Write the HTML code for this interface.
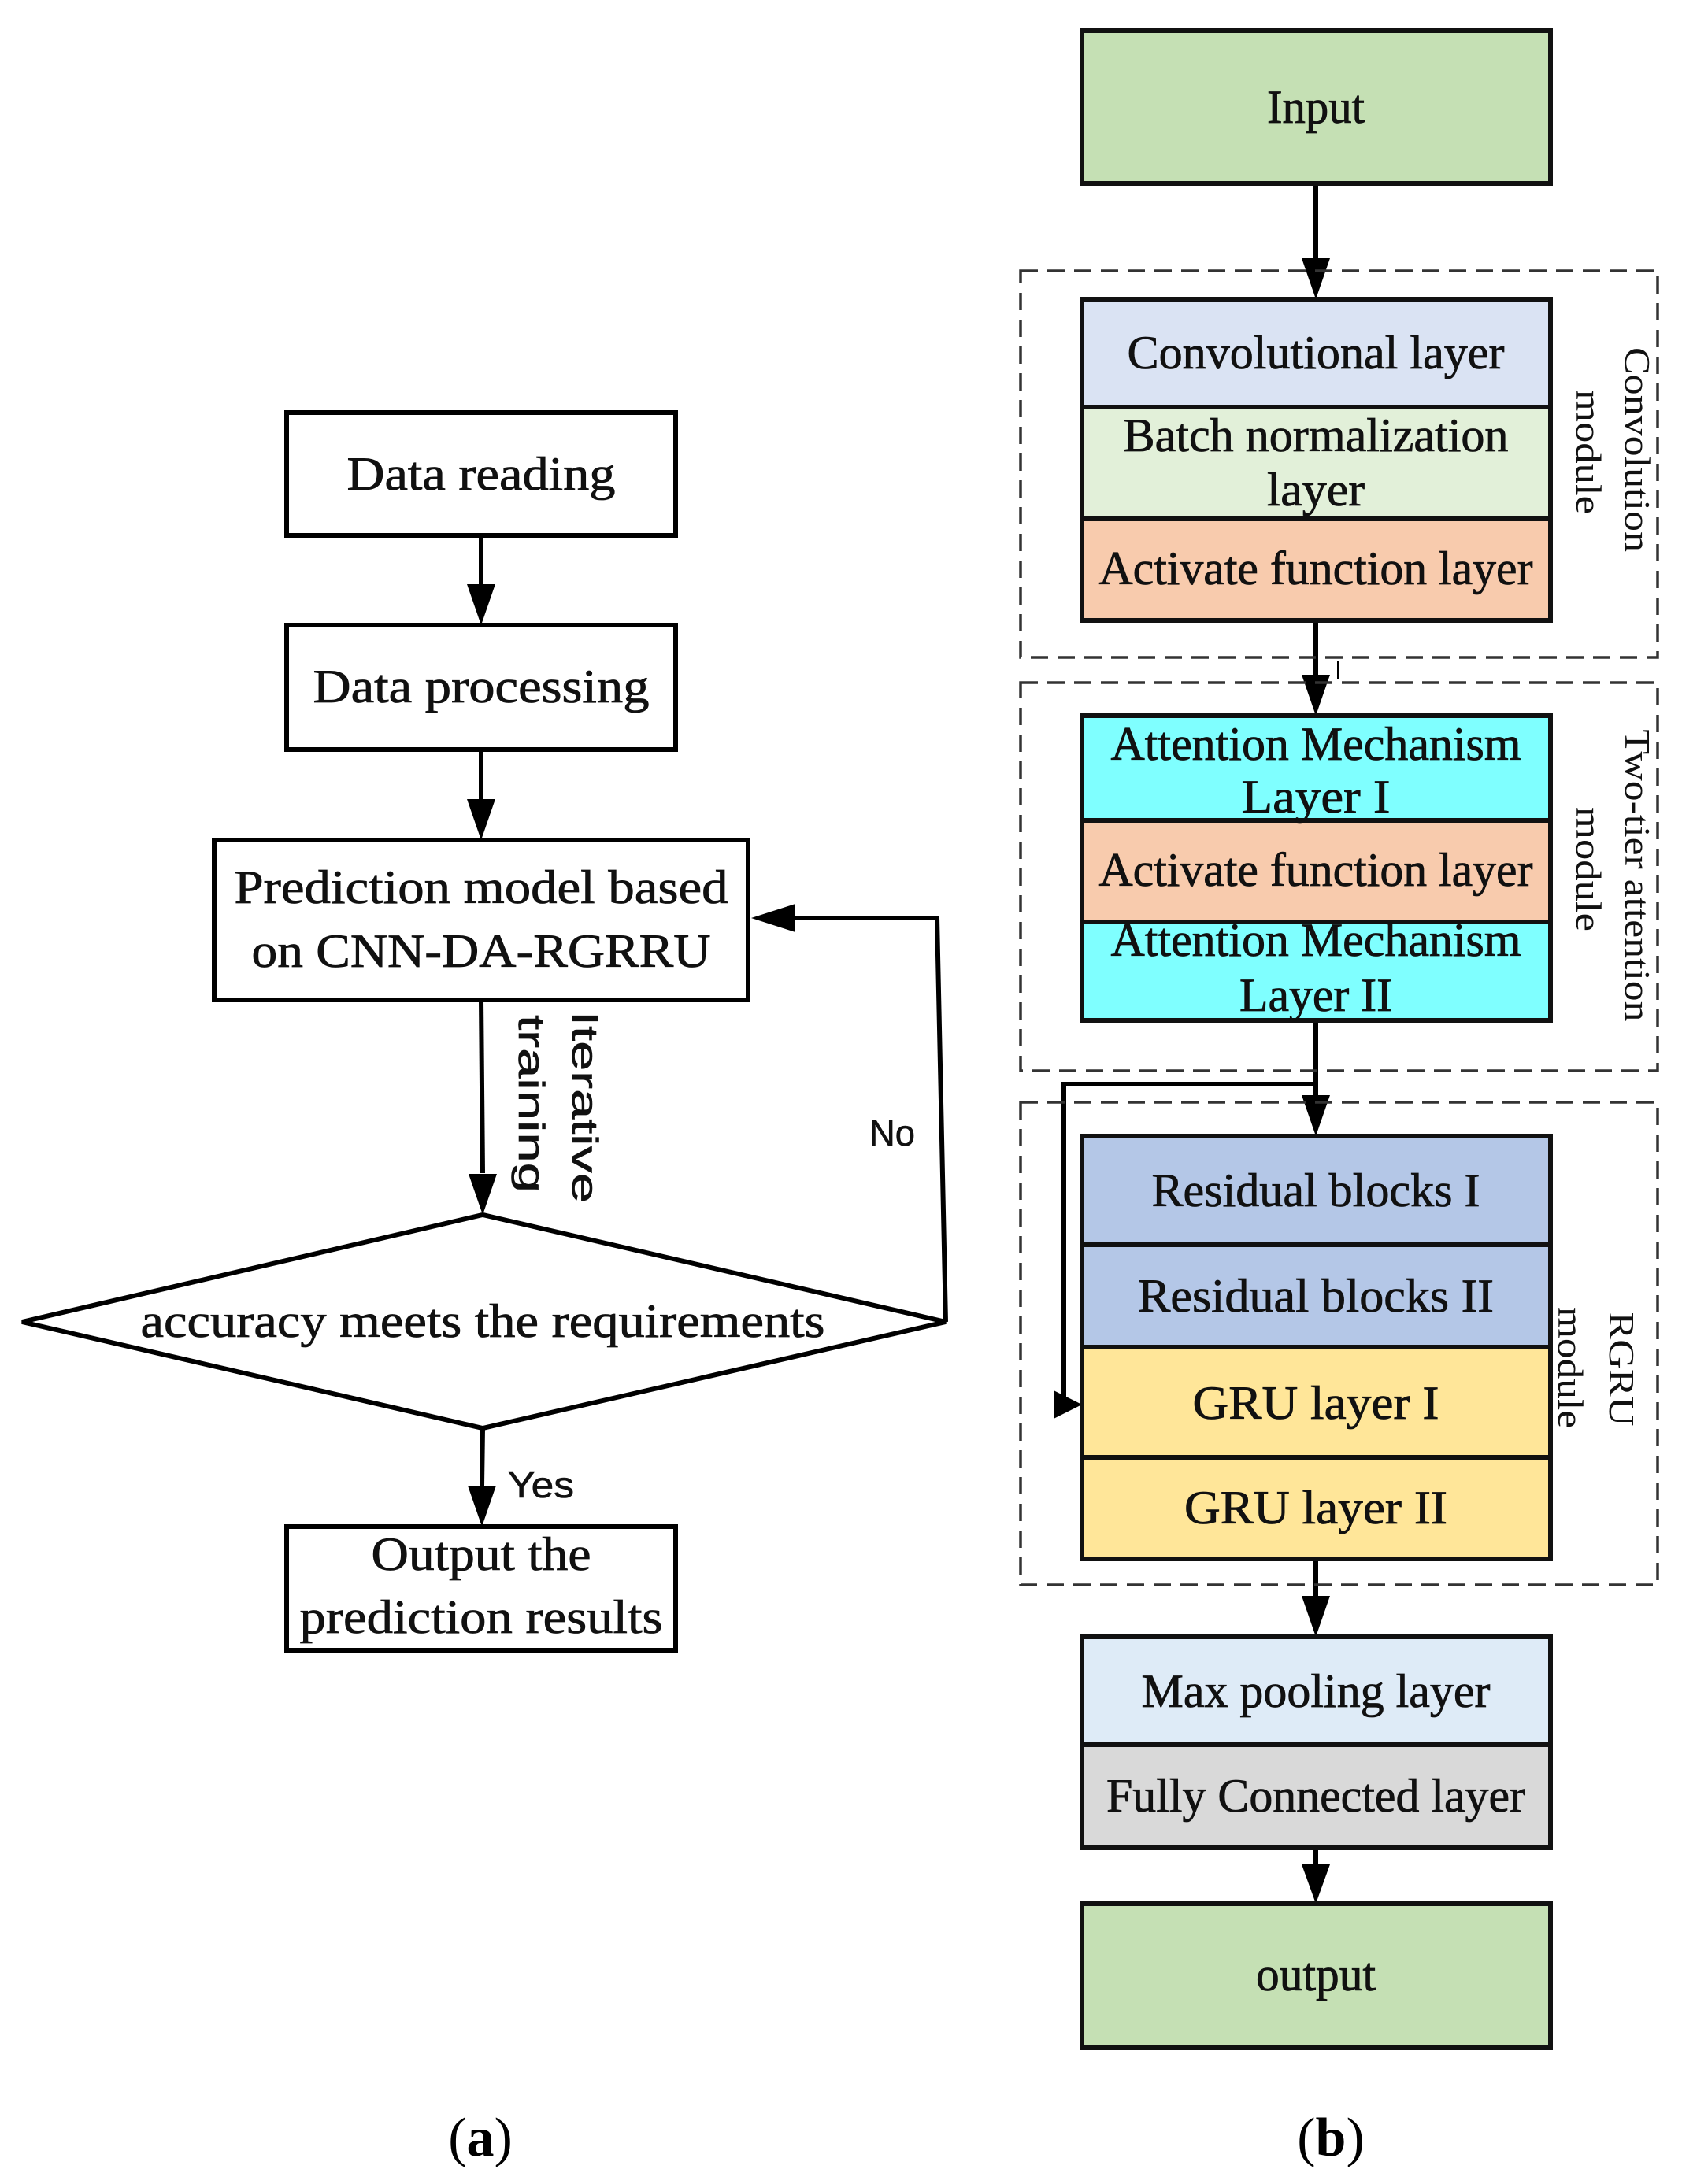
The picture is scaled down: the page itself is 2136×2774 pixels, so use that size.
<!DOCTYPE html>
<html><head><meta charset="utf-8"><style>
html,body{margin:0;padding:0;background:#fff}
svg{display:block}
.s{font-family:"Liberation Serif",serif;font-size:60px;fill:#111;stroke:#111;stroke-width:0.8}
.r{font-family:"Liberation Serif",serif;font-size:46px;fill:#111}
.a{font-family:"Liberation Sans",sans-serif;font-size:46px;fill:#111;stroke:#111;stroke-width:0.6}
</style></head><body>
<svg width="2136" height="2774" viewBox="0 0 2136 2774" xmlns="http://www.w3.org/2000/svg">
<g stroke="#000" stroke-width="6" fill="none">
<line x1="611" y1="680" x2="611" y2="742"/>
<line x1="611" y1="952" x2="611" y2="1015"/>
<line x1="611" y1="1270" x2="613" y2="1490"/>
<line x1="613" y1="1814" x2="612" y2="1887"/>
<polyline points="1201,1679 1190,1166 1010,1166"/>
<line x1="1671" y1="233" x2="1671" y2="330"/>
<line x1="1671" y1="788" x2="1671" y2="858"/>
<line x1="1671" y1="1296" x2="1671" y2="1392"/>
<polyline points="1671,1377 1351,1377 1351,1784 1340,1784"/>
<line x1="1671" y1="1980" x2="1671" y2="2028"/>
<line x1="1671" y1="2347" x2="1671" y2="2370"/>
<line x1="1699" y1="840" x2="1699" y2="862" stroke-width="2"/>
</g>
<g fill="#000">
<path d="M593,742 L629,742 L611,794 z"/>
<path d="M593,1015 L629,1015 L611,1067 z"/>
<path d="M595,1491 L631,1491 L613,1543 z"/>
<path d="M594,1887 L630,1887 L612,1939 z"/>
<path d="M1010,1148 L1010,1184 L954,1166 z"/>
<path d="M1653,328 L1689,328 L1671,380 z"/>
<path d="M1653,857 L1689,857 L1671,909 z"/>
<path d="M1653,1391 L1689,1391 L1671,1443 z"/>
<path d="M1338,1766 L1338,1802 L1374,1784 z"/>
<path d="M1653,2027 L1689,2027 L1671,2079 z"/>
<path d="M1653,2368 L1689,2368 L1671,2418 z"/>
</g>
<g stroke="#333" stroke-width="3.5" fill="none" stroke-dasharray="22,12">
<rect x="1296" y="344" width="809" height="491"/>
<rect x="1296" y="867" width="809" height="493"/>
<rect x="1296" y="1400" width="809" height="613"/>
</g>
<g stroke="#000" stroke-width="6" fill="#fff">
<rect x="364" y="524" width="494" height="156"/>
<rect x="364" y="794" width="494" height="158"/>
<rect x="272" y="1067" width="678" height="203"/>
<polygon points="28,1679 613,1543 1201,1679 613,1814"/>
<rect x="364" y="1939" width="494" height="157"/>
</g>
<g stroke="#111" stroke-width="6">
<rect x="1374" y="39" width="595" height="194" fill="#c5e0b4"/>
<rect x="1374" y="380" width="595" height="137" fill="#dae3f3"/>
<rect x="1374" y="517" width="595" height="142" fill="#e2f0d9"/>
<rect x="1374" y="659" width="595" height="129" fill="#f8cbad"/>
<rect x="1374" y="909" width="595" height="133" fill="#7fffff"/>
<rect x="1374" y="1042" width="595" height="129" fill="#f8cbad"/>
<rect x="1374" y="1171" width="595" height="125" fill="#7fffff"/>
<rect x="1374" y="1443" width="595" height="138" fill="#b4c7e7"/>
<rect x="1374" y="1581" width="595" height="130" fill="#b4c7e7"/>
<rect x="1374" y="1711" width="595" height="140" fill="#ffe699"/>
<rect x="1374" y="1851" width="595" height="129" fill="#ffe699"/>
<rect x="1374" y="2079" width="595" height="137" fill="#deebf7"/>
<rect x="1374" y="2216" width="595" height="131" fill="#d9d9d9"/>
<rect x="1374" y="2418" width="595" height="183" fill="#c5e0b4"/>
</g>
<g class="s" text-anchor="middle">
<text x="611" y="622" textLength="341" lengthAdjust="spacingAndGlyphs">Data reading</text>
<text x="611" y="892" textLength="427" lengthAdjust="spacingAndGlyphs">Data processing</text>
<text x="611" y="1147" textLength="627" lengthAdjust="spacingAndGlyphs">Prediction model based</text>
<text x="611" y="1228" textLength="583" lengthAdjust="spacingAndGlyphs">on CNN-DA-RGRRU</text>
<text x="613" y="1698" textLength="869" lengthAdjust="spacingAndGlyphs">accuracy meets the requirements</text>
<text x="611" y="1994" textLength="279" lengthAdjust="spacingAndGlyphs">Output the</text>
<text x="611" y="2074" textLength="461" lengthAdjust="spacingAndGlyphs">prediction results</text>
<text x="1671" y="156" textLength="124" lengthAdjust="spacingAndGlyphs">Input</text>
<text x="1671" y="468" textLength="479" lengthAdjust="spacingAndGlyphs">Convolutional layer</text>
<text x="1671" y="573" textLength="489" lengthAdjust="spacingAndGlyphs">Batch normalization</text>
<text x="1671" y="642" textLength="124" lengthAdjust="spacingAndGlyphs">layer</text>
<text x="1671" y="742" textLength="551" lengthAdjust="spacingAndGlyphs">Activate function layer</text>
<text x="1671" y="965" textLength="521" lengthAdjust="spacingAndGlyphs">Attention Mechanism</text>
<text x="1671" y="1032" textLength="189" lengthAdjust="spacingAndGlyphs">Layer  I</text>
<text x="1671" y="1125" textLength="551" lengthAdjust="spacingAndGlyphs">Activate function layer</text>
<text x="1671" y="1214" textLength="521" lengthAdjust="spacingAndGlyphs">Attention Mechanism</text>
<text x="1671" y="1284" textLength="194" lengthAdjust="spacingAndGlyphs">Layer II</text>
<text x="1671" y="1532" textLength="417" lengthAdjust="spacingAndGlyphs">Residual blocks I</text>
<text x="1671" y="1666" textLength="452" lengthAdjust="spacingAndGlyphs">Residual blocks  II</text>
<text x="1671" y="1802" textLength="313" lengthAdjust="spacingAndGlyphs">GRU layer  I</text>
<text x="1671" y="1935" textLength="334" lengthAdjust="spacingAndGlyphs">GRU layer  II</text>
<text x="1671" y="2168" textLength="443" lengthAdjust="spacingAndGlyphs">Max pooling layer</text>
<text x="1671" y="2301" textLength="532" lengthAdjust="spacingAndGlyphs">Fully Connected layer</text>
<text x="1671" y="2528" textLength="152" lengthAdjust="spacingAndGlyphs">output</text>
</g>
<g class="r" text-anchor="middle">
<text transform="translate(2064,571) rotate(90)" textLength="260" lengthAdjust="spacingAndGlyphs">Convolution</text>
<text transform="translate(2002,574) rotate(90)" textLength="158" lengthAdjust="spacingAndGlyphs">module</text>
<text transform="translate(2064,1112) rotate(90)" textLength="371" lengthAdjust="spacingAndGlyphs">Two-tier attention</text>
<text transform="translate(2002,1104) rotate(90)" textLength="158" lengthAdjust="spacingAndGlyphs">module</text>
<text transform="translate(2044,1739) rotate(90)" textLength="145" lengthAdjust="spacingAndGlyphs">RGRU</text>
<text transform="translate(1979,1737) rotate(90)" textLength="154" lengthAdjust="spacingAndGlyphs">module</text>
</g>
<g class="a" text-anchor="middle">
<text transform="translate(727,1406) rotate(90)" textLength="244" lengthAdjust="spacingAndGlyphs">Iterative</text>
<text transform="translate(659,1402) rotate(90)" textLength="226" lengthAdjust="spacingAndGlyphs">training</text>
<text x="1133" y="1455" textLength="58" lengthAdjust="spacingAndGlyphs">No</text>
<text x="687" y="1902" textLength="84" lengthAdjust="spacingAndGlyphs">Yes</text>
</g>
<g font-family="Liberation Serif,serif" font-size="70" fill="#000" text-anchor="middle">
<text x="610" y="2738">(<tspan font-weight="bold">a</tspan>)</text>
<text x="1690" y="2738">(<tspan font-weight="bold">b</tspan>)</text>
</g>
</svg>
</body></html>
